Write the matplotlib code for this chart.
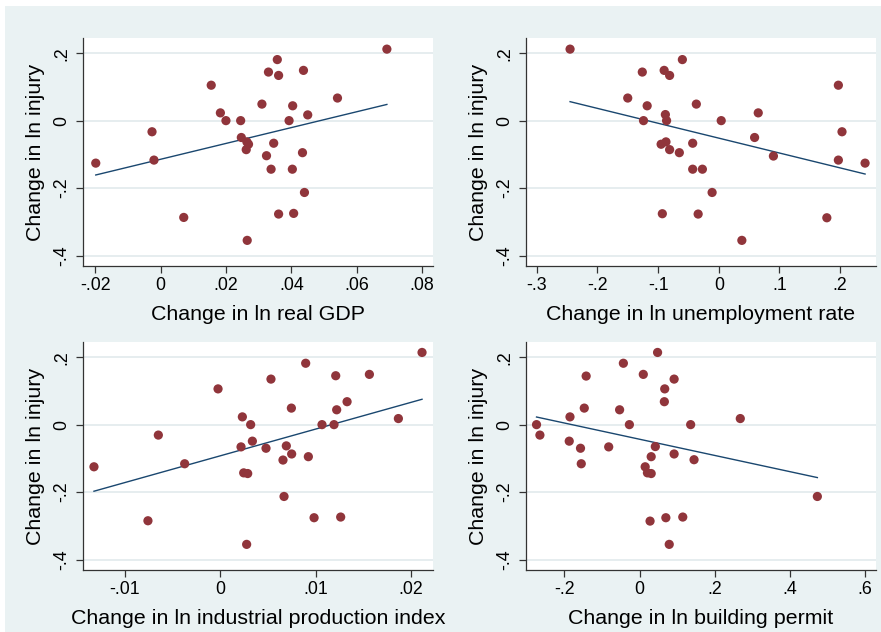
import numpy as np
import matplotlib
matplotlib.use("Agg")
import matplotlib.pyplot as plt

# change in ln injury vs. four macro indicators (Stata-style 2x2 scatter with fitted lines)

gdp_x = [-0.0198, -0.0026, -0.0020, 0.0071, 0.0155, 0.0183, 0.0200, 0.0245, 0.0247,
         0.0262, 0.0269, 0.0264, 0.0330, 0.0357, 0.0361, 0.0310, 0.0393, 0.0404,
         0.0450, 0.0437, 0.0541, 0.0692, 0.0324, 0.0346, 0.0338, 0.0403, 0.0434,
         0.0440, 0.0361, 0.0407, 0.0265]
gdp_y = [-0.126, -0.033, -0.117, -0.287, 0.105, 0.023, 0.0, 0.0, -0.050,
         -0.086, -0.070, -0.063, 0.144, 0.181, 0.134, 0.049, 0.0, 0.044,
         0.017, 0.149, 0.067, 0.212, -0.104, -0.067, -0.144, -0.144, -0.095,
         -0.213, -0.277, -0.275, -0.355]

unemp_x = [-0.245, -0.150, -0.126, -0.118, -0.124, -0.090, -0.081, -0.060, -0.088,
           -0.086, -0.095, -0.087, -0.081, -0.065, -0.043, -0.037, -0.043, -0.027,
           -0.011, -0.093, -0.034, 0.004, 0.038, 0.059, 0.065, 0.090, 0.178,
           0.197, 0.203, 0.197, 0.241]
unemp_y = [0.212, 0.067, 0.144, 0.044, 0.0, 0.149, 0.134, 0.181, 0.018,
           0.0, -0.070, -0.063, -0.086, -0.095, -0.067, 0.049, -0.144, -0.144,
           -0.213, -0.276, -0.277, 0.0, -0.355, -0.050, 0.023, -0.105, -0.288,
           0.105, -0.033, -0.117, -0.126]

ipi_x = [-0.01325, -0.00759, -0.0065, -0.00374, -0.00024, 0.00231, 0.00217, 0.00318,
         0.00336, 0.00245, 0.00287, 0.00276, 0.00479, 0.00531, 0.00657, 0.00668,
         0.00692, 0.00748, 0.00745, 0.00895, 0.00923, 0.00983, 0.01066, 0.01192,
         0.0121, 0.0122, 0.01262, 0.01329, 0.01563, 0.01867, 0.02115]
ipi_y = [-0.125, -0.285, -0.031, -0.116, 0.106, 0.023, -0.066, 0.0,
         -0.049, -0.143, -0.145, -0.355, -0.070, 0.135, -0.105, -0.213,
         -0.063, -0.087, 0.049, 0.182, -0.095, -0.276, 0.0, 0.0,
         0.145, 0.044, -0.274, 0.068, 0.149, 0.018, 0.214]

permit_x = [-0.274, -0.265, -0.185, -0.187, -0.147, -0.142, -0.157, -0.155, -0.082,
            -0.053, -0.043, -0.027, 0.010, 0.048, 0.067, 0.066, 0.092, 0.042,
            0.031, 0.015, 0.021, 0.031, 0.092, 0.136, 0.145, 0.268, 0.473,
            0.028, 0.070, 0.115, 0.079]
permit_y = [0.0, -0.031, 0.023, -0.049, 0.049, 0.144, -0.070, -0.116, -0.066,
            0.044, 0.182, 0.0, 0.149, 0.214, 0.106, 0.068, 0.135, -0.065,
            -0.095, -0.125, -0.143, -0.145, -0.087, 0.0, -0.104, 0.018, -0.213,
            -0.286, -0.276, -0.274, -0.355]

x_titles = ["Change in ln real GDP", "Change in ln unemployment rate",
            "Change in ln industrial production index", "Change in ln building permit"]
y_title = "Change in ln injury"

x_ticks = [[-0.02, 0, 0.02, 0.04, 0.06, 0.08],
           [-0.3, -0.2, -0.1, 0, 0.1, 0.2],
           [-0.01, 0, 0.01, 0.02],
           [-0.2, 0, 0.2, 0.4, 0.6]]
x_ticklabels = [["-.02", "0", ".02", ".04", ".06", ".08"],
                ["-.3", "-.2", "-.1", "0", ".1", ".2"],
                ["-.01", "0", ".01", ".02"],
                ["-.2", "0", ".2", ".4", ".6"]]
y_ticks = [-0.4, -0.2, 0, 0.2]
y_ticklabels = ["-.4", "-.2", "0", ".2"]

x_lims = [(-0.0237, 0.0833), (-0.3176, 0.259), (-0.0144, 0.0223), (-0.302, 0.629)]
y_lim = (-0.431, 0.245)

BG = "#EAF2F3"
GRID = "#E1EAEC"
MAROON = "#90353B"
NAVY = "#1A476F"

plt.rcParams['font.family'] = ['Liberation Sans', 'DejaVu Sans']

W, H = 881, 632
fig = plt.figure(figsize=(W / 100, H / 100), dpi=100)
fig.patch.set_facecolor("white")
# light graph region, leaving a thin white strip at top and left
fig.add_artist(plt.Rectangle((5 / W, 0), 1 - 5 / W, 1 - 6 / H, transform=fig.transFigure,
                             facecolor=BG, edgecolor="none", zorder=0))

# axes boxes in pixels: (left, top)
boxes = [(83, 38), (526, 38), (83, 342), (526, 342)]
aw, ah = 350, 228

panels = [(gdp_x, gdp_y), (unemp_x, unemp_y), (ipi_x, ipi_y), (permit_x, permit_y)]

for i, (xs, ys) in enumerate(panels):
    left, top = boxes[i]
    ax = fig.add_axes([left / W, 1 - (top + ah) / H, aw / W, ah / H])
    ax.set_facecolor("white")
    xs = np.array(xs)
    ys = np.array(ys)

    for yt in y_ticks:
        ax.axhline(yt, color=GRID, lw=1.2, zorder=0)

    ax.scatter(xs, ys, s=44, color=MAROON, edgecolors="none", zorder=3)
    b, a = np.polyfit(xs, ys, 1)
    xx = np.array([xs.min(), xs.max()])
    ax.plot(xx, a + b * xx, color=NAVY, lw=1.0, zorder=2)

    ax.set_xlim(*x_lims[i])
    ax.set_ylim(*y_lim)
    ax.set_xticks(x_ticks[i])
    ax.set_xticklabels(x_ticklabels[i], fontsize=12.8)
    ax.set_yticks(y_ticks)
    ax.set_yticklabels(y_ticklabels, fontsize=12.8, rotation=90, va="center")
    ax.tick_params(direction="out", length=5, width=0.9, color="#333333", pad=3)
    ax.tick_params(axis="y", pad=4)
    for s in ["top", "right"]:
        ax.spines[s].set_visible(False)
    for s in ["left", "bottom"]:
        ax.spines[s].set_color("#333333")
        ax.spines[s].set_linewidth(0.9)
    ax.set_xlabel(x_titles[i], fontsize=15.4, labelpad=8)
    ax.set_ylabel(y_title, fontsize=15.4, labelpad=6)

fig.savefig("out.png", dpi=100)
